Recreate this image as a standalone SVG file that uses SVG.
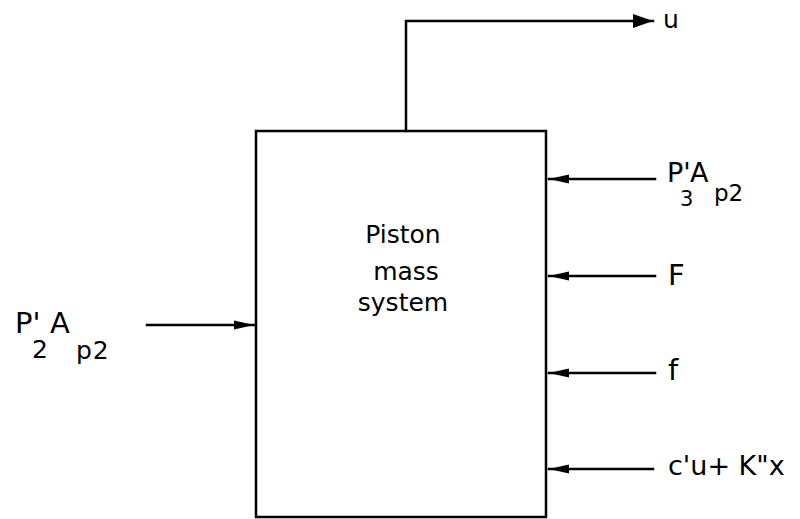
<svg xmlns="http://www.w3.org/2000/svg" width="800" height="519" viewBox="0 0 800 519">
<style>
.ln{fill:none;stroke:#000;stroke-width:2.5;stroke-linecap:square}
.t{font-family:"DejaVu Sans","Liberation Sans",sans-serif;fill:#000}
.m{font-size:25px;text-anchor:middle}
.lb{font-size:27px}
</style>
<defs>
<marker id="ah" markerUnits="userSpaceOnUse" markerWidth="22" markerHeight="12" refX="20" refY="6" orient="auto">
<path d="M0,1.5 L20,6 L0,10.5 Z" fill="#000"/>
</marker>
<marker id="ahb" markerUnits="userSpaceOnUse" markerWidth="22" markerHeight="16" refX="20" refY="8" orient="auto">
<path d="M0,1 L20,8 L0,15 Z" fill="#000"/>
</marker>
</defs>
<g id="piston">
<rect class="ln" x="256" y="131" width="290" height="386"/>
<text class="t m" x="403" y="243">Piston</text>
<text class="t m" x="406" y="280">mass</text>
<text class="t m" x="403" y="311">system</text>
</g>
<g id="connectors">
<path class="ln" d="M406,131 V21 H653" marker-end="url(#ahb)"/>
<path class="ln" d="M147,325 H254" marker-end="url(#ah)"/>
<path class="ln" d="M655,179 H549" marker-end="url(#ah)"/>
<path class="ln" d="M655,276 H549" marker-end="url(#ah)"/>
<path class="ln" d="M655,373 H549" marker-end="url(#ah)"/>
<path class="ln" d="M653,469 H549" marker-end="url(#ah)"/>
</g>
<g id="label-u"><text class="t" x="663" y="28" font-size="25">u</text></g>
<g id="label-p2">
<text class="t" x="15" y="333" font-size="29">P'<tspan x="32" y="358" font-size="25">2</tspan><tspan x="50" y="333">A</tspan><tspan x="76" y="359" font-size="25" letter-spacing="1">p2</tspan></text>
</g>
<g id="label-p3">
<text class="t lb" x="667" y="182">P'<tspan x="680" y="206" font-size="21">3</tspan><tspan x="690" y="182">A</tspan><tspan x="714" y="201" font-size="23">p2</tspan></text>
</g>
<g id="label-F"><text class="t" x="668" y="285" font-size="29">F</text></g>
<g id="label-f"><text class="t" x="668" y="380" font-size="29">f</text></g>
<g id="label-c"><text class="t lb" x="668" y="475">c'u+ K"x</text></g>
</svg>
